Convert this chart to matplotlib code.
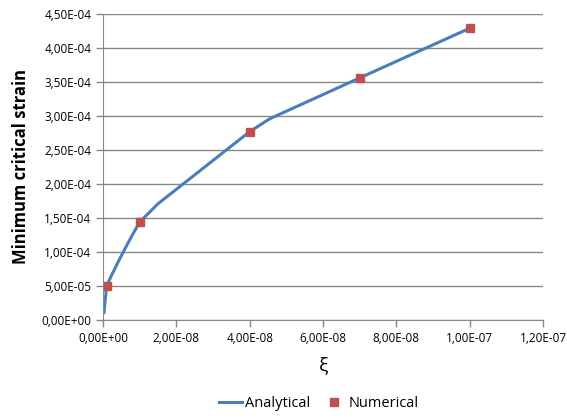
import matplotlib
matplotlib.use("Agg")
import matplotlib.pyplot as plt
from matplotlib.ticker import FuncFormatter, MultipleLocator

# analytical curve
xi_analytical = [2.5e-10, 1e-9, 2e-9, 4e-9, 6e-9, 8e-9, 1e-8, 1.5e-8,
                 4e-8, 4.55e-8, 7e-8, 1e-7]
eps_analytical = [1.1e-5, 5.0e-5, 6.2e-5, 8.4e-5, 1.05e-4, 1.25e-4, 1.44e-4, 1.71e-4,
                  2.77e-4, 2.96e-4, 3.56e-4, 4.29e-4]

# numerical results
xi_numerical = [1e-9, 1e-8, 4e-8, 7e-8, 1e-7]
eps_numerical = [5.0e-5, 1.44e-4, 2.77e-4, 3.56e-4, 4.29e-4]

plt.rcParams['font.family'] = ['Open Sans', 'DejaVu Sans']

def sci_comma(v, pos):
    return '{:.2E}'.format(v).replace('.', ',')

fig = plt.figure(figsize=(5.67, 4.19), dpi=100)
ax = fig.add_axes([0.1817, 0.2363, 0.776, 0.7303])

line, = ax.plot(xi_analytical, eps_analytical, color='#4a7ebb', lw=2.2, label='Analytical')
pts, = ax.plot(xi_numerical, eps_numerical, ls='none', marker='s', ms=6,
               color='#c0504d', label='Numerical')

ax.set_xlim(0, 1.2e-7)
ax.set_ylim(0, 4.5e-4)
ax.xaxis.set_major_locator(MultipleLocator(2e-8))
ax.yaxis.set_major_locator(MultipleLocator(5e-5))
ax.xaxis.set_major_formatter(FuncFormatter(sci_comma))
ax.yaxis.set_major_formatter(FuncFormatter(sci_comma))

ax.grid(axis='y', color='#878787', lw=1)
ax.set_axisbelow(True)
for s in ['top', 'right']:
    ax.spines[s].set_visible(False)
for s in ['left', 'bottom']:
    ax.spines[s].set_color('#878787')
ax.tick_params(colors='#878787', labelcolor='black', labelsize=8.5, length=5, width=1)

ax.set_xlabel('ξ', fontsize=14, labelpad=8)
ax.set_ylabel('Minimum critical strain', fontsize=12, fontweight='bold', labelpad=8)

# two legends so the marker entry gets a short handle like Excel does
leg1 = fig.legend(handles=[line], loc='center left', bbox_to_anchor=(0.386, 0.036),
                  frameon=False, fontsize=10.5, handlelength=1.6, handletextpad=0.2,
                  borderpad=0, borderaxespad=0)
leg2 = fig.legend(handles=[pts], loc='center left', bbox_to_anchor=(0.578, 0.036),
                  frameon=False, fontsize=10.5, handlelength=0.8, handletextpad=0.6,
                  borderpad=0, borderaxespad=0)

fig.savefig('out.png', dpi=100)
